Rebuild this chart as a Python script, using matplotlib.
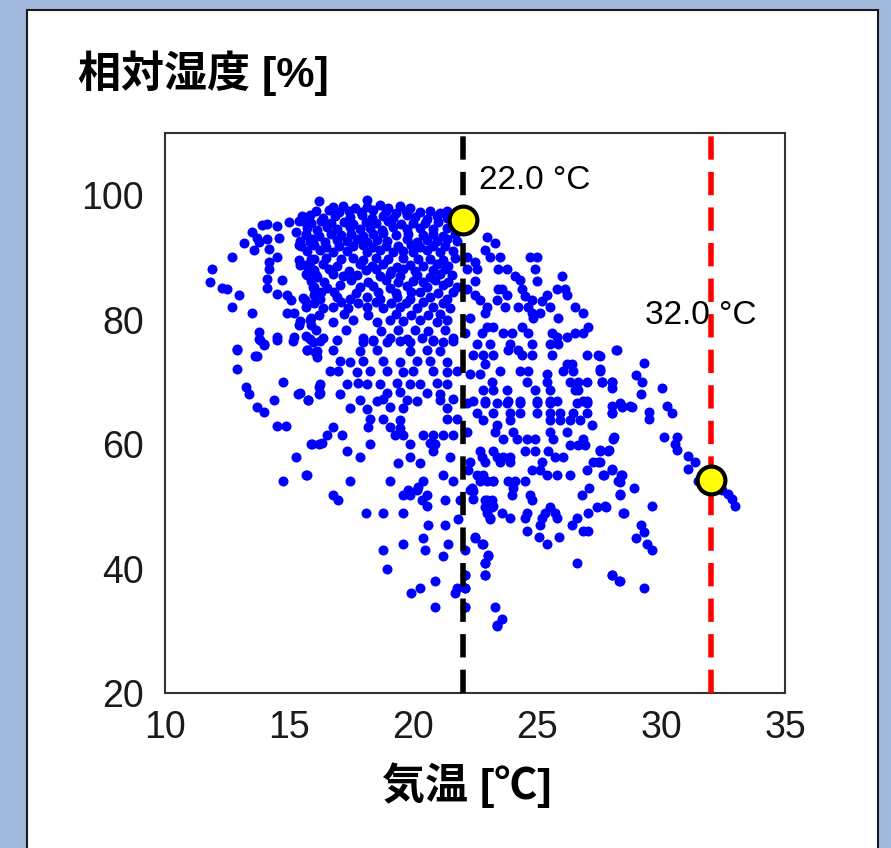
import numpy as np
import matplotlib
matplotlib.use('Agg')
import matplotlib.pyplot as plt
from matplotlib.patches import Rectangle

plt.rcParams['font.family'] = ['Liberation Sans', 'Noto Sans CJK JP', 'DejaVu Sans']

# DATA  (temperature degC, relative humidity %)
west = [
    (16.2, 99.0), (13.9, 95.2), (14.1, 95.4), (14.5, 95.1), (13.5, 94.1),
    (13.7, 93.1), (13.8, 92.5), (14.1, 93.0), (14.6, 93.2), (13.2, 92.3),
    (13.6, 91.2), (14.2, 91.3), (14.5, 90.1), (12.7, 90.1), (14.2, 89.3),
    (14.2, 88.2), (11.9, 88.2), (11.8, 86.1), (12.3, 85.1), (12.5, 85.0),
    (14.1, 86.6), (14.1, 85.1), (14.7, 86.4), (14.5, 84.2), (14.9, 84.0),
    (15.1, 83.1), (13.0, 84.0), (12.7, 82.0), (13.5, 81.1), (14.9, 81.1),
    (15.2, 81.0), (15.65, 83.1), (15.7, 82.0), (15.9, 80.2), (15.9, 79.1),
    (15.4, 79.1), (16.0, 85.3), (16.0, 83.9), (13.8, 78.0), (13.8, 76.9),
    (14.0, 76.1), (14.5, 77.2), (15.2, 77.2), (15.7, 77.4), (12.9, 75.3),
    (15.0, 95.7), (15.4, 95.9), (15.7, 95.5), (15.3, 94.1), (15.7, 93.6),
    (15.4, 92.0), (15.85, 92.5), (15.4, 89.6), (15.7, 88.75), (16.0, 89.8),
    (15.7, 87.4), (16.1, 87.15), (16.0, 85.0),
]

core = [
    (18.13, 99.2), (21.36, 97.4),
    (16.77, 98.1), (17.18, 98.3), (17.66, 97.9), (18.15, 98.1), (18.67, 98.4),
    (19.0, 97.9), (19.48, 98.2), (19.88, 98.0),
    (15.51, 96.6), (15.85, 96.9), (16.38, 96.4), (16.85, 96.7), (17.46, 96.5),
    (17.93, 96.9), (18.33, 96.4), (18.8, 96.7), (19.2, 96.3), (19.75, 96.8),
    (20.08, 96.5), (20.55, 96.2), (20.96, 96.7), (21.36, 96.4),
    (15.71, 94.7), (16.12, 94.4), (16.52, 94.9), (16.92, 94.6), (17.46, 94.9),
    (17.86, 94.5), (18.27, 94.8), (18.74, 94.4), (19.2, 94.9), (19.75, 94.6),
    (20.28, 94.8), (20.82, 94.5), (21.36, 94.7),
    (15.44, 92.7), (15.98, 92.9), (16.45, 92.5), (16.92, 92.8), (17.33, 92.6),
    (17.73, 92.9), (18.13, 92.5), (18.54, 92.8), (18.94, 92.6), (19.75, 92.9),
    (20.15, 92.5), (20.55, 92.8), (20.96, 92.6), (21.36, 92.9), (21.76, 92.6),
    (15.71, 91.0), (16.25, 91.2), (16.79, 90.8), (17.33, 91.1), (18.13, 90.9),
    (18.67, 91.2), (19.2, 90.8), (19.61, 91.1), (20.01, 90.9), (20.55, 91.2),
    (21.09, 90.8), (21.63, 91.0),
    (15.44, 88.75), (15.85, 88.5), (16.38, 88.9), (16.92, 88.6), (17.86, 88.9),
    (18.33, 88.6), (18.8, 88.9), (19.34, 88.5), (19.88, 88.8), (20.42, 88.6),
    (20.96, 88.9), (21.43, 88.7),
    (15.71, 87.15), (16.12, 86.9), (16.79, 87.3), (17.19, 87.0), (17.73, 87.2),
    (18.67, 87.0), (19.07, 87.3), (19.48, 87.0), (20.15, 87.2), (20.69, 86.9),
    (21.09, 87.3), (21.56, 87.1),
    (15.98, 85.3), (16.52, 85.1), (17.06, 85.5), (17.86, 85.2), (18.4, 85.4),
    (19.07, 85.1), (19.75, 85.4), (20.55, 85.2), (21.22, 85.5), (21.76, 85.2),
    (15.58, 83.5), (16.25, 83.3), (16.92, 83.7), (17.46, 83.4), (18.13, 83.6),
    (18.67, 83.3), (19.34, 83.6), (19.88, 83.4), (20.69, 83.6), (21.36, 83.4),
    (16.38, 81.9), (16.79, 82.1), (17.39, 81.8), (18.13, 82.0), (18.8, 81.8),
    (19.48, 82.1), (20.15, 81.9), (20.82, 82.1), (21.49, 81.8),
    (15.44, 79.8), (15.85, 80.0), (16.79, 79.7), (17.59, 79.9), (18.54, 79.7),
    (19.07, 80.0), (19.61, 79.8), (20.28, 79.9), (20.96, 79.7), (21.36, 80.0),
    (15.85, 76.9), (16.38, 77.1), (16.92, 76.8), (17.99, 77.0), (18.4, 76.8),
    (19.07, 77.1), (19.75, 76.9), (20.35, 77.0), (20.82, 76.8), (21.63, 77.1),
]

core_fill = [
    (16.1, 97.4), (16.6, 97.6), (17.0, 97.3), (17.4, 97.5), (17.9, 97.3),
    (18.4, 97.6), (18.9, 97.4), (19.3, 97.2), (19.7, 97.5), (20.3, 97.3),
    (20.7, 97.5), (21.1, 97.2),
    (15.9, 95.6), (16.3, 95.8), (16.7, 95.5), (17.2, 95.7), (17.6, 95.4),
    (18.1, 95.7), (18.5, 95.5), (19.0, 95.8), (19.5, 95.4), (20.0, 95.6),
    (20.5, 95.5), (21.0, 95.7), (21.6, 95.5),
    (15.7, 93.7), (16.2, 93.5), (16.7, 93.8), (17.1, 93.6), (17.5, 93.8),
    (18.0, 93.5), (18.4, 93.7), (18.8, 93.9), (19.3, 93.6), (19.8, 93.8),
    (20.4, 93.6), (20.8, 93.8), (21.2, 93.5), (21.7, 93.7),
    (15.5, 91.9), (16.0, 92.0), (16.5, 91.7), (17.0, 91.9), (17.6, 91.8),
    (18.0, 92.0), (18.4, 91.7), (18.9, 91.9), (19.4, 91.8), (19.9, 92.0),
    (20.3, 91.7), (20.8, 91.9), (21.3, 91.8),
    (15.9, 89.8), (16.5, 89.9), (17.1, 89.7), (17.6, 89.9), (18.0, 89.6),
    (18.5, 89.9), (19.0, 89.7), (19.6, 89.9), (20.2, 89.7), (20.7, 89.8),
    (21.2, 89.6), (21.7, 89.9),
    (16.0, 88.0), (16.6, 88.1), (17.4, 87.9), (18.1, 88.0), (18.5, 88.2),
    (19.1, 87.9), (19.6, 88.1), (20.1, 87.9), (20.8, 88.0), (21.3, 88.1),
    (15.9, 86.2), (16.4, 86.1), (17.5, 86.3), (18.2, 86.1), (18.9, 86.3),
    (19.4, 86.1), (20.0, 86.2), (20.4, 86.0), (20.9, 86.3), (21.4, 86.1),
    (16.3, 84.4), (16.8, 84.5), (17.7, 84.3), (18.6, 84.5), (19.3, 84.3),
    (19.9, 84.5), (20.3, 84.4), (21.0, 84.3), (21.6, 84.5),
    (16.0, 82.7), (17.1, 82.8), (17.8, 82.6), (18.5, 82.8), (19.1, 82.6),
    (19.7, 82.7), (20.4, 82.8), (21.2, 82.6),
    (16.2, 80.8), (17.2, 80.9), (18.2, 80.7), (19.3, 80.9), (19.9, 80.7),
    (20.6, 80.8), (21.1, 80.9),
    (16.1, 78.3), (17.3, 78.4), (18.7, 78.2), (19.4, 78.4), (20.1, 78.3),
    (20.6, 78.2), (21.3, 78.4),
]

southwest = [
    (13.83, 76.7), (14.5, 76.8), (15.17, 76.6), (14.0, 76.0), (12.89, 75.05),
    (13.63, 74.15), (13.7, 74.2), (15.71, 75.05), (16.05, 74.8), (16.12, 74.0),
    (12.89, 72.1), (14.77, 70.05), (13.27, 69.15), (13.4, 68.06), (15.38, 68.06),
    (15.78, 67.1), (16.22, 69.15), (16.22, 68.06), (14.4, 67.1), (13.7, 66.0),
    (14.0, 65.1), (14.5, 62.95), (14.88, 62.95), (15.89, 60.0), (16.22, 60.0),
    (15.28, 58.0), (15.69, 55.0), (14.77, 54.0),
]

middle = [
    (15.98, 76.45), (16.25, 76.5), (18.0, 76.4), (18.4, 76.5), (18.94, 76.4),
    (19.48, 76.5), (19.88, 76.4), (20.82, 76.5), (21.22, 76.4), (21.63, 76.5),
    (15.71, 75.05), (16.12, 75.0), (16.79, 75.1), (17.86, 75.0), (18.54, 75.1),
    (19.88, 75.0), (20.55, 75.1), (21.09, 75.0),
    (17.06, 73.3), (17.46, 73.2), (18.0, 73.4), (18.8, 73.3), (19.48, 73.2),
    (20.15, 73.4), (20.69, 73.3), (21.36, 73.2),
    (16.65, 71.7), (16.99, 71.8), (17.73, 71.6), (18.27, 71.7), (18.94, 71.8),
    (19.61, 71.6), (20.01, 71.7), (20.82, 71.8), (21.36, 71.6), (21.76, 71.7),
    (16.25, 69.7), (17.33, 69.6), (17.79, 69.8), (18.13, 69.7), (18.67, 69.6),
    (19.34, 69.8), (19.88, 69.7), (20.28, 69.6), (20.96, 69.8), (21.36, 69.7),
    (15.44, 68.2), (16.25, 68.2), (17.06, 68.1), (18.94, 68.2), (19.48, 68.3),
    (20.55, 68.2), (21.09, 68.1),
    (15.78, 67.1), (17.86, 67.1), (18.54, 67.0), (18.8, 67.2), (19.75, 67.1),
    (20.15, 67.0), (21.09, 67.1), (21.63, 67.2),
    (17.46, 65.8), (18.13, 65.7), (19.07, 65.9), (19.61, 65.8), (21.36, 65.8),
    (18.27, 64.0), (18.8, 64.1), (19.48, 63.9), (21.36, 64.0), (21.76, 64.1),
    (16.79, 62.7), (18.2, 62.7), (19.07, 62.8), (19.48, 62.6),
    (16.52, 61.45), (17.13, 61.5), (19.27, 61.4), (19.61, 61.5), (20.42, 61.4),
    (20.82, 61.45), (21.22, 61.5), (21.63, 61.4),
    (15.92, 60.0), (16.32, 60.1), (18.27, 60.0), (19.88, 60.0), (20.69, 60.1),
    (20.89, 60.0), (17.33, 58.9), (20.82, 58.9), (17.86, 58.0), (19.88, 58.0),
    (21.49, 58.0), (19.41, 56.9), (20.28, 56.9), (15.71, 55.1), (21.22, 55.1),
    (17.46, 54.0), (19.07, 54.0), (20.42, 54.0), (21.63, 54.0), (20.21, 53.1),
    (16.79, 51.9), (19.61, 51.9), (19.88, 51.9), (20.55, 51.9),
]

south = [
    (22.7, 54.0), (22.97, 54.1), (23.24, 54.0), (19.81, 52.6), (20.15, 52.6),
    (22.3, 52.6), (22.43, 52.5), (16.99, 51.0), (20.35, 51.0), (21.29, 51.0),
    (21.9, 51.0), (22.43, 51.1), (22.9, 51.0), (23.17, 51.0), (20.55, 50.05),
    (22.97, 50.05), (23.24, 50.1), (18.1, 49.0), (18.8, 49.0), (19.61, 49.0),
    (22.97, 49.0), (21.83, 47.9), (23.1, 47.9), (20.59, 47.0), (21.29, 47.0),
    (20.39, 44.95), (22.5, 44.95), (19.61, 44.0), (21.4, 44.0), (22.79, 44.0),
    (18.8, 42.95), (20.5, 42.95), (22.1, 42.95), (21.19, 42.0), (23.04, 42.0),
    (22.9, 40.9), (18.97, 39.95), (22.1, 38.9), (22.9, 38.9), (20.89, 37.95),
    (20.28, 36.9), (21.76, 36.9), (22.1, 36.9), (19.9, 36.1), (21.7, 36.1),
    (20.89, 33.9), (22.1, 33.9), (23.3, 33.9), (23.37, 31.0), (23.58, 31.9),
    (23.4, 30.8),
]

east = [
    (22.97, 93.3), (23.31, 92.25), (22.9, 91.2), (22.17, 90.1), (23.1, 90.1),
    (23.5, 90.0), (24.72, 90.1), (25.0, 90.1), (22.5, 89.3), (22.17, 88.2),
    (22.57, 88.2), (23.44, 88.1), (23.78, 88.2), (24.92, 88.2), (24.11, 87.0),
    (26.0, 87.0), (22.5, 86.2), (24.99, 86.2), (24.31, 86.3), (22.17, 85.0),
    (23.44, 85.0), (23.58, 84.9), (24.38, 85.0), (25.79, 85.0), (26.13, 85.0),
    (22.5, 83.9), (23.78, 83.9), (24.52, 83.8), (25.39, 83.9), (26.2, 83.9),
    (22.7, 83.1), (23.38, 83.1), (24.79, 83.1), (25.19, 83.0), (22.97, 82.0),
    (23.71, 82.0), (24.25, 82.1), (24.65, 82.0), (25.52, 82.0), (26.53, 82.0),
    (22.9, 81.1), (24.79, 81.1), (25.12, 81.0), (26.87, 81.1), (22.3, 80.2),
    (24.85, 80.2), (25.86, 80.2), (22.97, 78.9), (23.24, 78.9), (24.38, 78.9),
    (27.07, 78.9), (22.1, 77.9), (22.77, 77.9), (23.64, 77.9), (23.98, 77.9),
    (24.65, 77.9), (25.59, 77.9), (26.53, 77.9), (26.87, 77.9), (25.79, 77.2),
    (26.2, 77.2), (22.57, 76.1), (23.1, 76.1), (23.91, 76.1), (24.79, 76.1),
    (25.52, 76.1), (25.86, 76.1), (23.84, 75.2), (24.25, 75.2), (28.21, 75.2),
    (22.43, 74.25), (22.83, 74.25), (23.24, 74.25), (24.38, 74.25), (24.79, 74.25),
    (25.59, 74.25), (27.0, 74.25), (27.47, 74.25), (22.9, 72.9), (26.2, 72.9),
    (26.4, 72.9), (23.51, 71.8), (24.31, 71.8), (24.65, 71.8), (26.06, 71.8),
    (26.46, 71.8), (27.54, 71.8), (22.3, 71.3), (22.7, 71.3), (25.39, 71.3),
    (23.17, 70.0), (24.58, 70.0), (25.39, 70.0), (26.33, 70.0), (26.67, 70.0),
    (27.0, 70.0), (27.61, 70.0), (28.01, 70.0), (22.83, 68.7), (23.24, 68.7),
    (23.78, 68.7), (24.92, 68.7), (25.52, 68.7), (26.53, 68.7), (26.67, 68.7),
    (22.43, 67.0), (22.9, 67.0), (23.84, 67.0), (24.31, 67.0), (24.99, 67.0),
    (25.52, 67.0), (25.79, 67.0), (26.87, 67.0), (27.0, 67.0), (28.41, 66.1),
    (28.75, 66.1), (28.01, 66.1), (22.57, 65.0), (23.24, 65.0), (23.91, 65.0),
    (24.31, 65.0), (24.99, 65.0), (25.52, 65.0), (25.93, 65.0), (26.46, 65.0),
    (27.0, 65.0), (28.01, 65.0),
]

southeast = [
    (22.17, 66.6), (22.9, 66.6), (23.38, 66.6), (23.78, 66.6), (24.31, 66.6),
    (24.99, 66.6), (25.52, 66.6), (26.6, 66.6), (27.0, 66.6), (28.35, 66.6),
    (22.83, 63.9), (23.91, 63.9), (25.52, 63.9), (25.93, 63.9), (26.33, 63.9),
    (26.73, 63.9), (23.38, 63.1), (27.2, 63.1), (22.17, 62.0), (23.31, 62.0),
    (24.05, 62.0), (25.52, 62.0), (26.2, 62.0), (23.64, 60.8), (24.18, 60.8),
    (24.58, 60.8), (24.92, 60.8), (25.66, 60.8), (26.87, 60.8), (28.08, 60.8),
    (26.33, 59.9), (26.67, 59.9), (26.94, 59.9), (22.7, 58.9), (23.24, 58.9),
    (24.52, 58.9), (24.92, 58.9), (25.46, 58.9), (27.54, 58.9), (27.88, 58.9),
    (22.77, 58.0), (23.38, 58.0), (23.64, 58.0), (23.91, 58.0), (25.72, 58.0),
    (26.06, 58.0), (22.3, 57.1), (22.9, 57.1), (23.51, 57.1), (23.91, 57.1),
    (25.19, 57.1), (27.27, 57.1), (27.47, 57.1), (22.23, 55.8), (24.79, 55.8),
    (25.12, 55.8), (27.0, 55.8), (28.01, 55.8), (22.57, 55.0), (22.83, 55.0),
    (25.39, 55.0), (25.79, 55.0), (26.33, 55.0), (27.67, 55.0), (28.41, 55.0),
    (23.24, 54.0), (23.84, 54.0), (24.11, 54.0), (24.52, 54.0), (28.28, 54.0),
    (22.37, 53.0), (24.05, 53.0), (27.11, 53.0), (23.98, 51.9), (24.72, 51.9),
    (26.8, 51.9), (28.35, 51.9), (22.97, 51.0), (24.79, 51.0), (22.9, 49.9),
    (23.17, 49.9), (25.52, 49.9), (27.4, 49.9), (27.8, 49.9), (23.58, 49.0),
    (24.58, 49.0), (25.32, 49.0), (25.72, 49.0), (27.07, 49.0), (28.48, 49.0),
    (23.1, 48.1), (23.91, 48.1), (24.52, 48.1), (25.19, 48.1), (25.79, 48.1),
    (26.6, 48.1), (25.12, 47.0), (26.4, 47.0), (24.58, 46.0), (26.87, 46.0),
    (27.07, 46.0), (22.5, 45.0), (25.09, 45.0), (25.89, 45.0), (22.81, 44.0),
    (25.39, 44.0), (23.04, 42.1), (22.9, 40.9), (26.6, 40.9), (22.1, 39.0),
    (22.9, 39.0), (28.01, 39.0), (28.32, 37.95), (22.1, 36.9), (22.1, 33.9),
]

far_east = [
    (28.2, 75.05), (29.31, 73.06), (27.54, 74.15), (27.54, 72.1), (27.61, 70.05),
    (28.02, 70.05), (28.02, 69.0), (29.0, 71.1), (29.25, 70.05), (30.04, 69.0),
    (29.21, 68.06), (28.02, 65.0), (28.43, 66.0), (28.84, 66.0), (29.52, 65.1),
    (29.52, 64.0), (30.25, 66.05), (30.44, 65.0), (28.09, 61.1), (30.14, 61.1),
    (30.66, 61.1), (30.55, 60.0), (30.66, 59.1), (31.07, 58.1), (31.37, 57.05),
    (31.07, 56.0), (31.5, 54.0), (27.54, 59.1), (27.92, 59.1), (27.54, 57.05),
    (28.02, 56.0), (27.71, 55.0), (28.39, 55.0), (28.33, 53.9), (28.91, 53.0),
    (28.33, 52.05), (27.75, 50.05), (28.5, 49.0), (29.62, 50.05), (29.21, 47.0),
    (29.32, 45.9), (29.01, 44.95), (29.43, 44.0), (29.62, 42.95), (28.02, 38.9),
    (28.33, 37.95), (29.31, 36.9), (32.46, 52.7), (32.71, 52.05), (32.87, 51.1),
    (32.98, 50.05),
]

# highlighted observations
mark_temp = [22.0, 32.0]
mark_rh = [96.0, 54.2]
mark_labels = ['22.0 °C', '32.0 °C']
line_colors = ['black', '#ff0000']

obs = (west + core + core_fill + southwest + middle + south + east
       + southeast + far_east)
temp = np.array([p[0] for p in obs])
rh = np.array([p[1] for p in obs])

# FIGURE
fig = plt.figure(figsize=(8.91, 8.48), dpi=100)
fig.patch.set_facecolor('#a2b9de')
fig.add_artist(Rectangle((27 / 891, -0.02), 851 / 891, 1.02 - 10 / 848,
                         transform=fig.transFigure, facecolor='white',
                         edgecolor='#1a1a1a', linewidth=1.5, zorder=-1))

ax = fig.add_axes([165 / 891, 155 / 848, 620 / 891, 560 / 848])
ax.scatter(temp, rh, s=52, color='#0000ff', linewidths=0, zorder=2)

for t, c in zip(mark_temp, line_colors):
    ax.axvline(t, color=c, linewidth=4, linestyle=(0, (4.2, 2.2)), zorder=3)
ax.plot(mark_temp, mark_rh, 'o', linestyle='none', markersize=20,
        markerfacecolor='#ffff00', markeredgecolor='black',
        markeredgewidth=3, zorder=4)

ax.text(22.66, 102.4, mark_labels[0], fontsize=24, va='center', ha='left')
ax.text(29.35, 80.7, mark_labels[1], fontsize=24, va='center', ha='left')

ax.set_xlim(10, 35)
ax.set_ylim(20, 110)
ax.set_xticks(np.arange(10, 36, 5))
ax.set_yticks(np.arange(20, 101, 20))
ax.tick_params(axis='both', length=0, labelsize=27, colors='#1a1a1a')
ax.tick_params(axis='x', pad=12)
ax.tick_params(axis='y', pad=15)
for s in ax.spines.values():
    s.set_color('#333333')
    s.set_linewidth(1.5)

fig.text(78 / 891, 1 - 73 / 848, '相対湿度 [%]', fontsize=31,
         fontweight='bold', ha='left', va='center')
fig.text(467 / 891, 1 - 785 / 848, '気温 [℃]', fontsize=31,
         fontweight='bold', ha='center', va='center')

fig.savefig('out.png', dpi=100, facecolor=fig.get_facecolor())
